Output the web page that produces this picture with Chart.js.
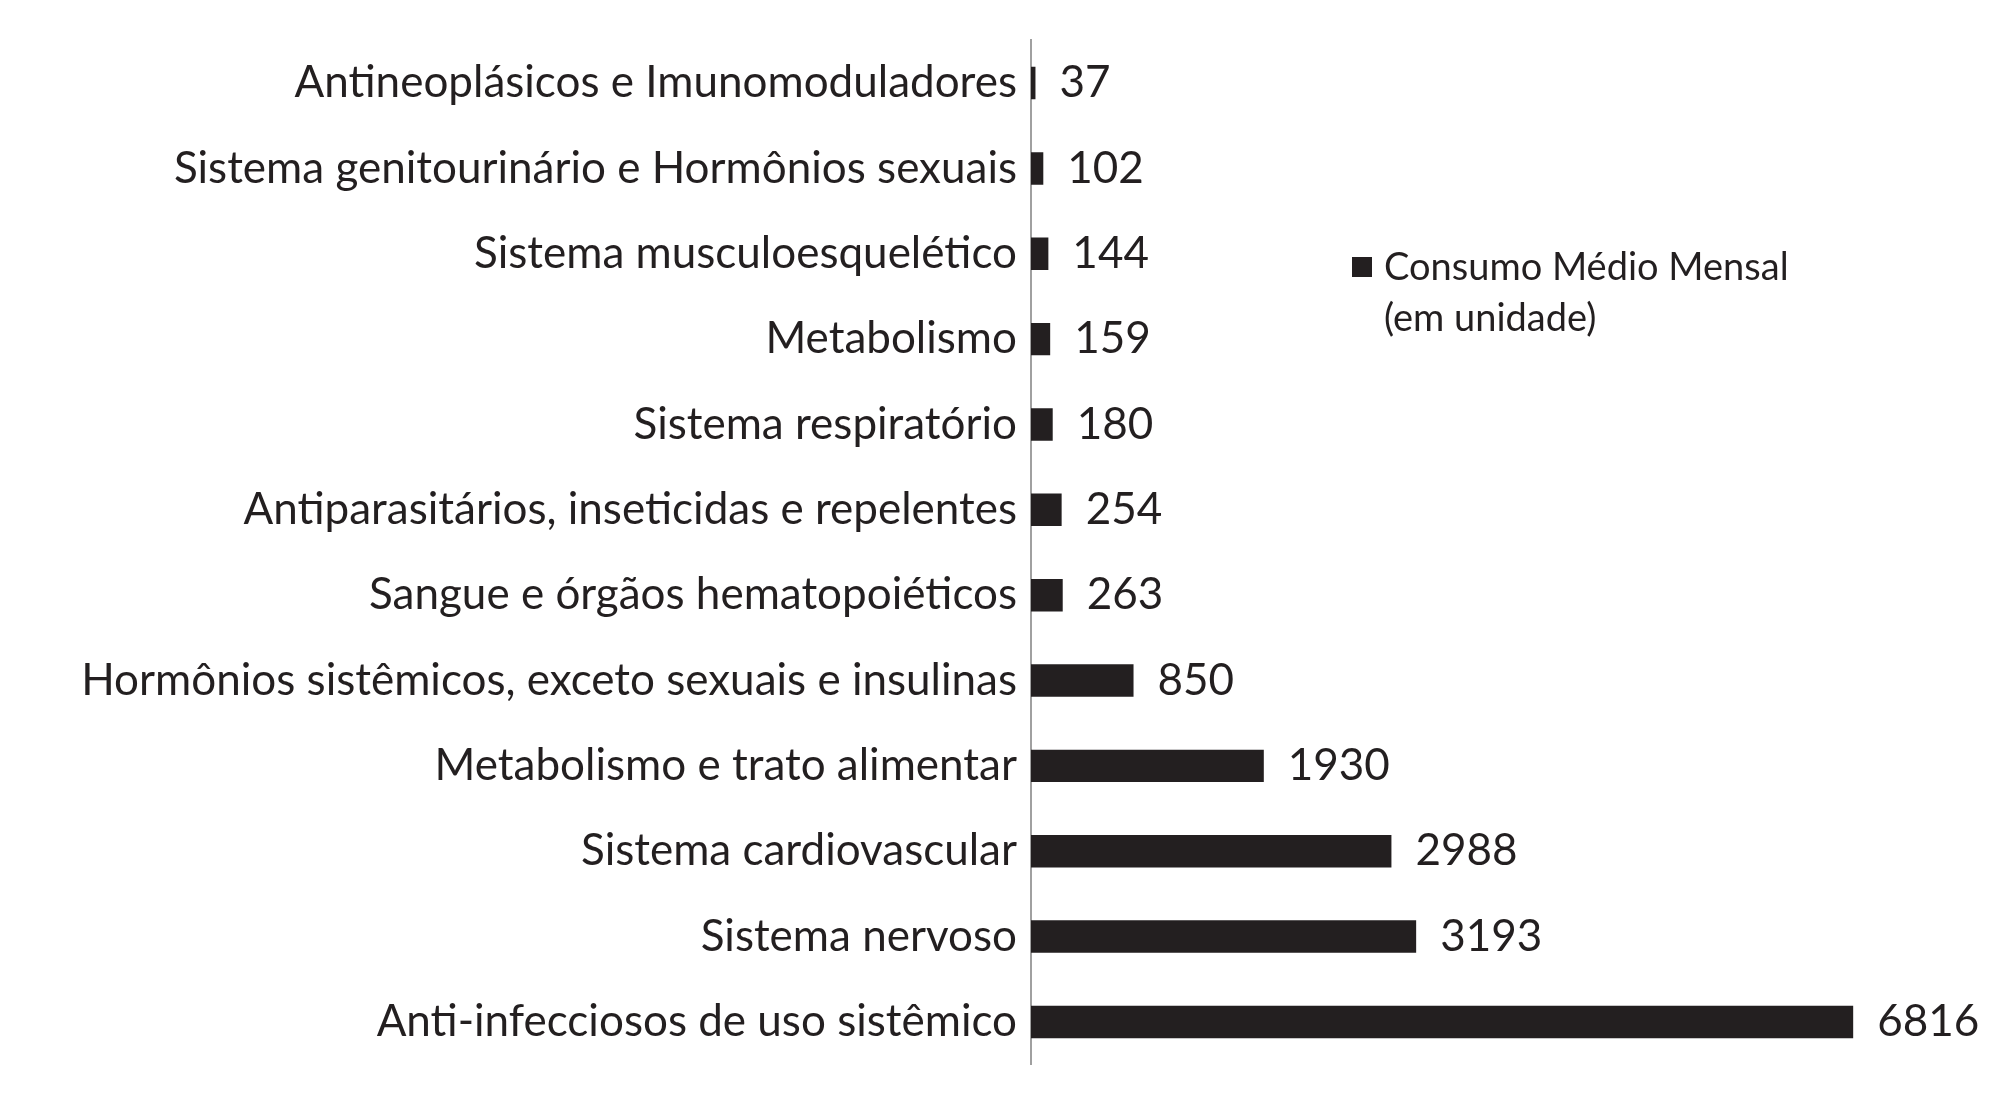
<!DOCTYPE html>
<html>
<head>
<style>
  html, body { margin: 0; padding: 0; background: #fff; }
  #wrap { width: 2000px; height: 1105px; }
</style>
</head>
<body>
<div id="wrap"><canvas id="consumoChart"></canvas></div>
<script src="https://cdn.jsdelivr.net/npm/chart.js"></script>
<script>
var categories = [
    'Antineoplásicos e Imunomoduladores',
    'Sistema genitourinário e Hormônios sexuais',
    'Sistema musculoesquelético',
    'Metabolismo',
    'Sistema respiratório',
    'Antiparasitários, inseticidas e repelentes',
    'Sangue e órgãos hematopoiéticos',
    'Hormônios sistêmicos, exceto sexuais e insulinas',
    'Metabolismo e trato alimentar',
    'Sistema cardiovascular',
    'Sistema nervoso',
    'Anti-infecciosos de uso sistêmico'
];
var consumo = [37, 102, 144, 159, 180, 254, 263, 850, 1930, 2988, 3193, 6816];
var seriesLabel = ['Consumo Médio Mensal', '(em unidade)'];

var FONT = 'Lato, "Open Sans", sans-serif';
var TEXT = '#231f20';

// value labels at bar ends + legend box
var extras = {
    id: 'extras',
    afterDatasetsDraw: function (chart) {
        var ctx = chart.ctx;
        var meta = chart.getDatasetMeta(0);
        ctx.save();
        ctx.fillStyle = TEXT;
        ctx.font = '44px ' + FONT;
        ctx.textBaseline = 'middle';
        meta.data.forEach(function (bar, i) {
            ctx.textAlign = 'left';
            ctx.fillText(String(consumo[i]), bar.x + 24, bar.y);
        });
        // legend
        ctx.fillStyle = '#231f20';
        ctx.fillRect(1352, 257, 20, 20);
        ctx.fillStyle = TEXT;
        ctx.font = '38px ' + FONT;
        ctx.fillText(seriesLabel[0], 1384, 268);
        ctx.fillText(seriesLabel[1], 1384, 319);
        ctx.restore();
    }
};

new Chart(document.getElementById('consumoChart').getContext('2d'), {
    type: 'bar',
    data: {
        labels: categories,
        datasets: [{
            label: seriesLabel.join(' '),
            data: consumo,
            backgroundColor: '#231f20',
            categoryPercentage: 0.38,
            barPercentage: 1
        }]
    },
    options: {
        indexAxis: 'y',
        responsive: true,
        maintainAspectRatio: false,
        animation: false,
        layout: { padding: { top: 20, bottom: 32, right: 4 } },
        plugins: { legend: { display: false }, tooltip: { enabled: false } },
        scales: {
            x: {
                min: 0,
                max: 8000,
                display: false
            },
            y: {
                afterFit: function (axis) { axis.width = 1031; },
                grid: { display: false, drawTicks: false },
                border: { display: true, color: '#a0a0a0', width: 2 },
                ticks: {
                    color: TEXT,
                    padding: 14,
                    font: { family: FONT, size: 44 }
                }
            }
        }
    },
    plugins: [extras]
});
</script>
</body>
</html>
